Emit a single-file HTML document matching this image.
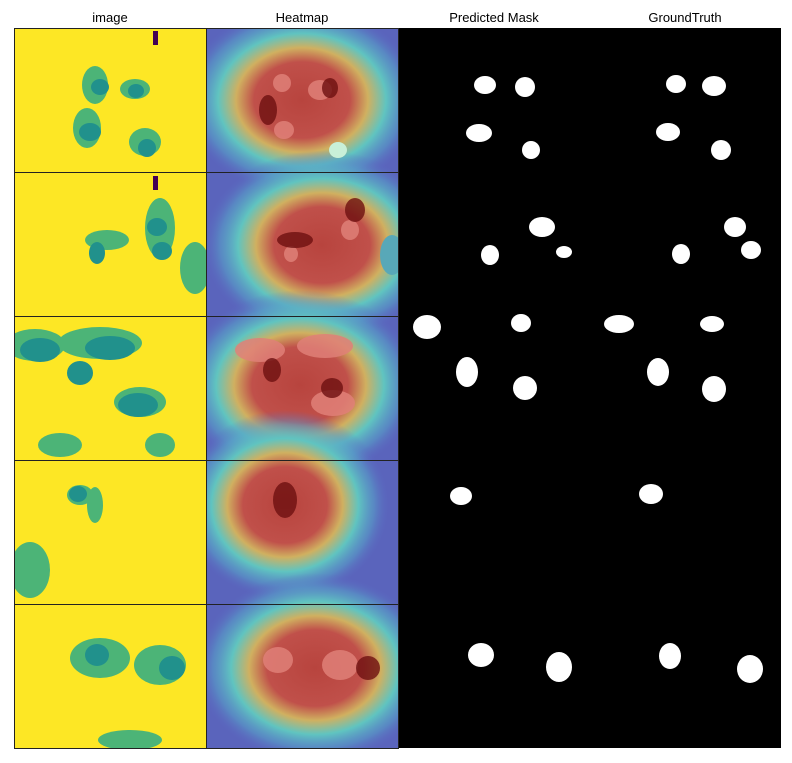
<!DOCTYPE html>
<html><head><meta charset="utf-8"><style>
body{margin:0;background:#fff;}
svg{display:block;font-family:"Liberation Sans","DejaVu Sans",sans-serif;}
</style></head><body>
<svg width="792" height="763" viewBox="0 0 792 763">
<defs>
<radialGradient id="hm" cx="50%" cy="50%" r="50%">
<stop offset="0" stop-color="#b8443e"/><stop offset="0.4" stop-color="#c0504a"/>
<stop offset="0.55" stop-color="#d0b060"/><stop offset="0.7" stop-color="#60c4c0"/>
<stop offset="0.85" stop-color="#58a0c8" stop-opacity="0.6"/>
<stop offset="1" stop-color="#5a64c2" stop-opacity="0"/>
</radialGradient>
<clipPath id="c1"><rect x="14" y="28" width="192" height="720"/></clipPath>
<clipPath id="c2"><rect x="206" y="28" width="192" height="720"/></clipPath>
</defs>
<g font-size="13" fill="#000" text-anchor="middle">
<text x="110" y="22">image</text>
<text x="302" y="22">Heatmap</text>
<text x="494" y="22">Predicted Mask</text>
<text x="685" y="22">GroundTruth</text>
</g>
<g clip-path="url(#c1)">
<rect x="14" y="28" width="192" height="720" fill="#fde725"/>
<g fill="#4cb477">
<ellipse cx="95" cy="85" rx="13" ry="19"/><ellipse cx="135" cy="89" rx="15" ry="10"/>
<ellipse cx="87" cy="128" rx="14" ry="20"/><ellipse cx="145" cy="142" rx="16" ry="14"/>
<ellipse cx="107" cy="240" rx="22" ry="10"/><ellipse cx="160" cy="228" rx="15" ry="30"/><ellipse cx="195" cy="268" rx="15" ry="26"/>
<ellipse cx="35" cy="345" rx="30" ry="16"/><ellipse cx="100" cy="343" rx="42" ry="16"/><ellipse cx="140" cy="402" rx="26" ry="15"/><ellipse cx="60" cy="445" rx="22" ry="12"/><ellipse cx="160" cy="445" rx="15" ry="12"/>
<ellipse cx="80" cy="495" rx="13" ry="10"/><ellipse cx="95" cy="505" rx="8" ry="18"/><ellipse cx="30" cy="570" rx="20" ry="28"/>
<ellipse cx="100" cy="658" rx="30" ry="20"/><ellipse cx="160" cy="665" rx="26" ry="20"/><ellipse cx="130" cy="740" rx="32" ry="10"/>
</g>
<g fill="#21918c">
<ellipse cx="100" cy="87" rx="9" ry="8"/><ellipse cx="136" cy="91" rx="8" ry="7"/><ellipse cx="90" cy="132" rx="11" ry="9"/><ellipse cx="147" cy="148" rx="9" ry="9"/>
<ellipse cx="97" cy="253" rx="8" ry="11"/><ellipse cx="157" cy="227" rx="10" ry="9"/><ellipse cx="162" cy="251" rx="10" ry="9"/>
<ellipse cx="40" cy="350" rx="20" ry="12"/><ellipse cx="110" cy="348" rx="25" ry="12"/><ellipse cx="80" cy="373" rx="13" ry="12"/><ellipse cx="138" cy="405" rx="20" ry="12"/>
<ellipse cx="78" cy="494" rx="9" ry="8"/><ellipse cx="97" cy="655" rx="12" ry="11"/><ellipse cx="172" cy="668" rx="13" ry="12"/>
</g>
<rect x="153" y="31" width="5" height="14" fill="#440154"/><rect x="153" y="176" width="5" height="14" fill="#440154"/>
</g>
<g clip-path="url(#c2)">
<rect x="206" y="28" width="192" height="720" fill="#5a64bc"/>
<ellipse cx="302" cy="100" rx="120" ry="95" fill="url(#hm)"/>
<ellipse cx="322" cy="245" rx="120" ry="95" fill="url(#hm)"/>
<ellipse cx="300" cy="385" rx="120" ry="95" fill="url(#hm)"/>
<ellipse cx="285" cy="505" rx="105" ry="95" fill="url(#hm)"/>
<ellipse cx="315" cy="668" rx="120" ry="95" fill="url(#hm)"/>
<g fill="#e08078" opacity="0.85">
<ellipse cx="282" cy="83" rx="9" ry="9"/><ellipse cx="284" cy="130" rx="10" ry="9"/><ellipse cx="320" cy="90" rx="12" ry="10"/><ellipse cx="291" cy="254" rx="7" ry="8"/><ellipse cx="350" cy="230" rx="9" ry="10"/>
<ellipse cx="260" cy="350" rx="25" ry="12"/><ellipse cx="325" cy="346" rx="28" ry="12"/><ellipse cx="333" cy="403" rx="22" ry="13"/><ellipse cx="278" cy="660" rx="15" ry="13"/><ellipse cx="340" cy="665" rx="18" ry="15"/>
</g>
<g fill="#6e1010" opacity="0.8">
<ellipse cx="268" cy="110" rx="9" ry="15"/><ellipse cx="330" cy="88" rx="8" ry="10"/><ellipse cx="355" cy="210" rx="10" ry="12"/><ellipse cx="295" cy="240" rx="18" ry="8"/>
<ellipse cx="272" cy="370" rx="9" ry="12"/><ellipse cx="332" cy="388" rx="11" ry="10"/><ellipse cx="285" cy="500" rx="12" ry="18"/><ellipse cx="368" cy="668" rx="12" ry="12"/>
</g>
<ellipse cx="338" cy="150" rx="9" ry="8" fill="#c8f0d8"/>
<ellipse cx="392" cy="255" rx="12" ry="20" fill="#58a8b8"/>
</g>
<rect x="398" y="28" width="383" height="720" fill="#000"/>
<g fill="#fff">
<ellipse cx="485" cy="85" rx="11" ry="9"/><ellipse cx="525" cy="87" rx="10" ry="10"/><ellipse cx="479" cy="133" rx="13" ry="9"/><ellipse cx="531" cy="150" rx="9" ry="9"/>
<ellipse cx="542" cy="227" rx="13" ry="10"/><ellipse cx="490" cy="255" rx="9" ry="10"/><ellipse cx="564" cy="252" rx="8" ry="6"/>
<ellipse cx="427" cy="327" rx="14" ry="12"/><ellipse cx="521" cy="323" rx="10" ry="9"/><ellipse cx="467" cy="372" rx="11" ry="15"/><ellipse cx="525" cy="388" rx="12" ry="12"/>
<ellipse cx="461" cy="496" rx="11" ry="9"/>
<ellipse cx="481" cy="655" rx="13" ry="12"/><ellipse cx="559" cy="667" rx="13" ry="15"/>
</g>
<g fill="#fff">
<ellipse cx="676" cy="84" rx="10" ry="9"/><ellipse cx="714" cy="86" rx="12" ry="10"/><ellipse cx="668" cy="132" rx="12" ry="9"/><ellipse cx="721" cy="150" rx="10" ry="10"/>
<ellipse cx="735" cy="227" rx="11" ry="10"/><ellipse cx="681" cy="254" rx="9" ry="10"/><ellipse cx="751" cy="250" rx="10" ry="9"/>
<ellipse cx="619" cy="324" rx="15" ry="9"/><ellipse cx="712" cy="324" rx="12" ry="8"/><ellipse cx="658" cy="372" rx="11" ry="14"/><ellipse cx="714" cy="389" rx="12" ry="13"/>
<ellipse cx="651" cy="494" rx="12" ry="10"/>
<ellipse cx="670" cy="656" rx="11" ry="13"/><ellipse cx="750" cy="669" rx="13" ry="14"/>
</g>
<g stroke="#222" stroke-width="1" fill="none">
<rect x="14.5" y="28.5" width="192" height="720"/><rect x="206.5" y="28.5" width="192" height="720"/>
<line x1="14" y1="172.5" x2="398" y2="172.5"/><line x1="14" y1="316.5" x2="398" y2="316.5"/>
<line x1="14" y1="460.5" x2="398" y2="460.5"/><line x1="14" y1="604.5" x2="398" y2="604.5"/>
</g>
</svg>
</body></html>
